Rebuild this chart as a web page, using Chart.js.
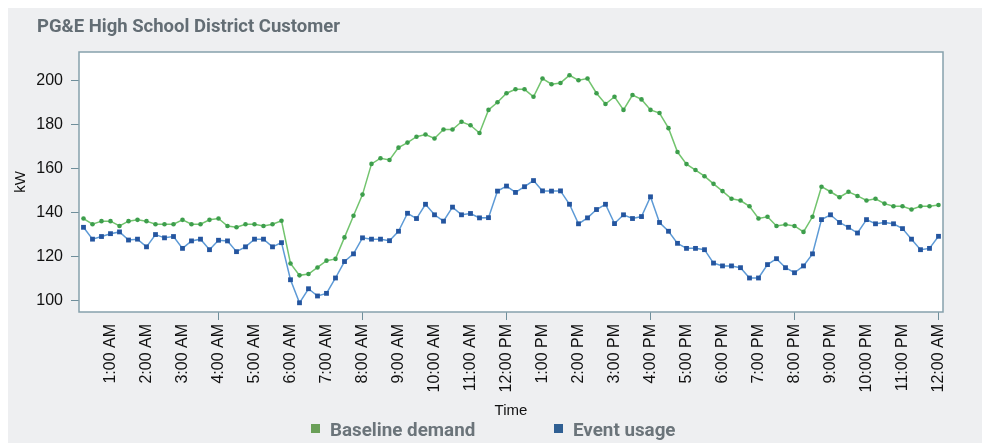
<!DOCTYPE html>
<html>
<head>
<meta charset="utf-8">
<script src="https://cdn.jsdelivr.net/npm/chart.js@4/dist/chart.umd.min.js"></script>
<style>
  html, body { margin: 0; padding: 0; background: #ffffff; }
  #wrap { width: 982px; height: 443px; }
</style>
</head>
<body>
<div id="wrap"><canvas id="myChart" width="982" height="443"></canvas></div>
<script>
// hour tick labels, one for every 4th 15-minute slot (first slot is 12:15 AM)
const hourLabels = ['1:00 AM', '2:00 AM', '3:00 AM', '4:00 AM', '5:00 AM', '6:00 AM',
  '7:00 AM', '8:00 AM', '9:00 AM', '10:00 AM', '11:00 AM', '12:00 PM',
  '1:00 PM', '2:00 PM', '3:00 PM', '4:00 PM', '5:00 PM', '6:00 PM',
  '7:00 PM', '8:00 PM', '9:00 PM', '10:00 PM', '11:00 PM', '12:00 AM'];
const yTicks = [100, 120, 140, 160, 180, 200];

const baselineDemand = [
  137.3, 134.7, 136.1, 136.1, 133.9, 136.1, 136.7, 136.1,
  134.7, 134.7, 134.7, 136.7, 134.7, 134.7, 136.7, 137.3,
  133.9, 133.3, 134.7, 134.7, 133.9, 134.7, 136.3, 116.8,
  111.4, 112.0, 115.0, 118.1, 118.9, 128.7, 138.6, 148.2,
  162.2, 164.8, 164.0, 169.6, 171.9, 174.6, 175.6, 173.8,
  177.9, 177.9, 181.4, 179.8, 176.3, 186.8, 190.3, 194.4,
  196.2, 196.2, 192.8, 201.1, 198.5, 199.1, 202.6, 200.3,
  201.1, 194.4, 189.5, 192.8, 186.8, 193.6, 191.6, 186.8,
  185.4, 178.5, 167.6, 162.1, 159.4, 156.6, 153.1, 149.8,
  146.3, 145.5, 142.9, 137.3, 138.1, 133.9, 134.6, 133.9,
  131.2, 138.1, 151.8, 149.5, 147.0, 149.5, 147.6, 145.5,
  146.3, 144.1, 142.9, 142.9, 141.4, 142.9, 142.9, 143.5
];
const eventUsage = [
  133.3, 127.9, 129.1, 130.4, 131.2, 127.5, 127.9, 124.4,
  130.0, 128.5, 129.1, 123.7, 127.1, 127.9, 123.1, 127.4,
  127.1, 122.2, 124.4, 127.9, 127.9, 124.4, 126.3, 109.4,
  98.9, 105.3, 102.0, 103.2, 110.2, 117.7, 121.2, 128.5,
  127.9, 127.9, 127.2, 131.5, 139.7, 137.3, 143.8, 139.0,
  136.1, 142.5, 139.0, 139.6, 137.6, 137.7, 149.8, 152.1,
  149.2, 151.8, 154.6, 149.9, 149.8, 149.9, 143.8, 134.9,
  137.6, 141.4, 143.8, 135.0, 139.0, 137.3, 138.2, 147.2,
  135.5, 131.5, 126.0, 123.7, 123.7, 123.1, 117.0, 115.7,
  115.7, 114.9, 110.2, 110.2, 116.3, 119.0, 114.9, 112.6,
  115.7, 121.2, 136.8, 139.0, 135.5, 133.3, 130.7, 136.8,
  134.9, 135.5, 134.9, 132.7, 127.9, 123.1, 123.7, 129.2
];

// one category per 15-minute slot, labelled only on the hour
const slotLabels = baselineDemand.map((v, i) => (i + 1) % 4 === 0 ? hourLabels[(i + 1) / 4 - 1] : '');

const legendItems = [
  { text: 'Baseline demand', color: '#6a9f58', x: 311 },
  { text: 'Event usage', color: '#2f5f93', x: 554 }
];

const frame = {
  id: 'frame',
  beforeDraw(chart) {
    const ctx = chart.ctx;
    const a = chart.chartArea;
    ctx.save();
    ctx.fillStyle = '#ffffff';
    ctx.fillRect(0, 0, chart.width, chart.height);
    ctx.fillStyle = '#eeeff1';
    ctx.fillRect(8, 8, chart.width - 8, chart.height - 8);
    ctx.fillStyle = '#ffffff';
    ctx.fillRect(a.left, a.top, a.right - a.left, a.bottom - a.top);
    ctx.restore();
  },
  afterDraw(chart) {
    const ctx = chart.ctx;
    const a = chart.chartArea;
    ctx.save();
    ctx.strokeStyle = '#86a1ac';
    ctx.lineWidth = 1.5;
    ctx.strokeRect(a.left, a.top, a.right - a.left, a.bottom - a.top);

    ctx.fillStyle = '#636d74';
    ctx.font = 'bold 18.5px Roboto';
    ctx.textBaseline = 'alphabetic';
    ctx.fillText('PG&E High School District Customer', 37, 31.5);

    ctx.font = 'bold 18.8px Roboto';
    legendItems.forEach(item => {
      ctx.fillStyle = item.color;
      ctx.fillRect(item.x, 424, 9, 9);
      ctx.fillStyle = '#6b747a';
      ctx.fillText(item.text, item.x + 19, 436);
    });
    ctx.restore();
  }
};

const ctx = document.getElementById('myChart').getContext('2d');
const myChart = new Chart(ctx, {
  type: 'line',
  data: {
    labels: slotLabels,
    datasets: [
      {
        label: 'Baseline demand',
        data: baselineDemand,
        borderColor: '#72c46e',
        borderWidth: 1.5,
        pointStyle: 'circle',
        pointRadius: 2.3,
        pointBorderWidth: 0,
        pointBackgroundColor: '#3d9e4c',
        tension: 0
      },
      {
        label: 'Event usage',
        data: eventUsage,
        borderColor: '#5d9ad6',
        borderWidth: 1.5,
        pointStyle: 'rect',
        pointRadius: 3.4,
        pointBorderWidth: 0,
        pointBackgroundColor: '#24559f',
        tension: 0
      }
    ]
  },
  options: {
    responsive: false,
    animation: false,
    devicePixelRatio: 1,
    layout: {
      padding: { left: 0, top: 52, right: 39, bottom: 0 }
    },
    plugins: {
      legend: { display: false },
      title: { display: false },
      tooltip: { enabled: false }
    },
    scales: {
      x: {
        type: 'category',
        offset: true,
        afterFit: s => { s.height = 131; },
        border: { display: false },
        grid: {
          drawOnChartArea: false,
          drawTicks: true,
          tickLength: 8,
          offset: false,
          color: c => slotLabels[c.index] ? '#6f8e9b' : 'rgba(0,0,0,0)'
        },
        ticks: {
          autoSkip: false,
          minRotation: 90,
          maxRotation: 90,
          padding: 4,
          color: '#111111',
          font: { family: 'Liberation Sans', size: 16 },
          callback: (v, i) => slotLabels[i] || null
        },
        title: {
          display: true,
          text: 'Time',
          color: '#111111',
          font: { family: 'Liberation Sans', size: 15 },
          padding: { top: 0, bottom: 23 }
        }
      },
      y: {
        min: 94.7,
        max: 213.2,
        afterFit: s => { s.width = 79; },
        afterBuildTicks: s => { s.ticks = yTicks.map(v => ({ value: v })); },
        border: { display: false },
        grid: {
          drawOnChartArea: false,
          drawTicks: true,
          tickLength: 8,
          color: '#6f8e9b'
        },
        ticks: {
          padding: 8,
          color: '#111111',
          font: { family: 'Liberation Sans', size: 16 }
        },
        title: {
          display: true,
          text: 'kW',
          color: '#111111',
          font: { family: 'Liberation Sans', size: 15 },
          padding: { top: 12, bottom: 0 }
        }
      }
    }
  },
  plugins: [frame]
});
</script>
</body>
</html>
